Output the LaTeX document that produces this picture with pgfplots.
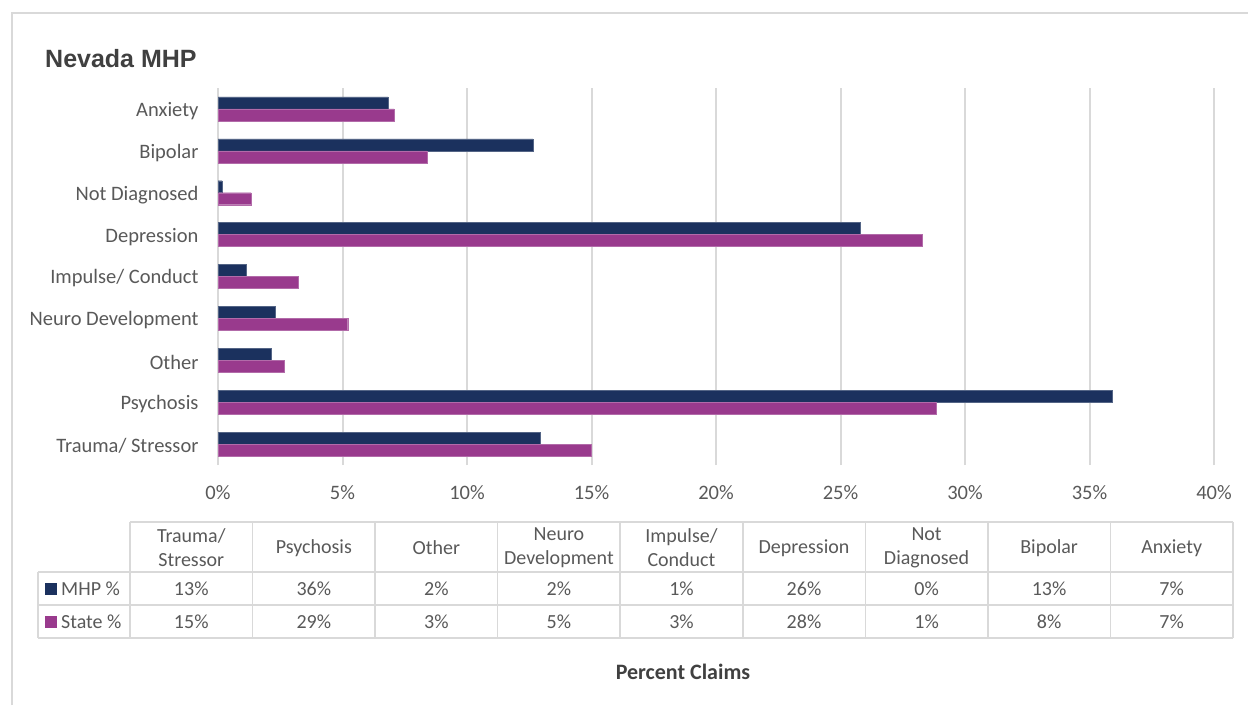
\documentclass[border=0pt]{standalone}
\usepackage{pgfplots}
\usepackage{pgfplotstable}
\pgfplotsset{compat=1.18}
\usepackage{fontspec}
\setmainfont{Carlito}
\newfontfamily\titlefont{Liberation Sans}
\definecolor{mhp}{HTML}{1B315E}
\definecolor{state}{HTML}{993A8D}
\definecolor{txt}{HTML}{595959}
\definecolor{ttl}{HTML}{404040}
\definecolor{gridc}{HTML}{D9D9D9}

\pgfplotstableread{
idx mhp state
0 12.93 14.98
1 35.93 28.84
2 2.14 2.66
3 2.30 5.21
4 1.15 3.24
5 25.80 28.27
6 0.17 1.33
7 12.65 8.39
8 6.83 7.07
}\datatab

\begin{document}
\begin{tikzpicture}[x=1pt,y=1pt]
\path[use as bounding box] (0,0) rectangle (1248,705);
\draw[gridc, line width=1.5pt] (12,0) -- (12,692) -- (1248,692);
\node[anchor=base west, font=\titlefont\bfseries\fontsize{25}{29}\selectfont, text=ttl, inner sep=0pt] at (45,637) {Nevada MHP};
\begin{axis}[
  at={(218pt,240pt)}, anchor=south west, scale only axis,
  width=996pt, height=377pt,
  xmin=0, xmax=40, ymin=-0.5, ymax=8.5,
  axis line style={draw=none}, major tick length=0pt,
  xmajorgrids, grid style={gridc, line width=2pt},
  xtick={0,5,...,40},
  /pgf/number format/assume math mode=true,
  xticklabel={\pgfmathprintnumber{\tick}\%},
  xticklabel style={anchor=north, yshift=-17pt},
  ytick={0,...,8},
  yticklabels={Trauma/ Stressor\hspace{4pt}, Psychosis, Other, Neuro Development, Impulse/ Conduct, Depression, Not Diagnosed\hspace{4pt}, Bipolar, Anxiety},
  yticklabel style={anchor=east, xshift=-16pt, yshift=-2pt},
  tick label style={font=\fontsize{20.5}{24}\selectfont, text=txt},
  clip=false,
]
\addplot[xbar, bar width=12pt, bar shift=6pt, fill=mhp, draw=mhp!75!white, line width=0.4pt] table[x=mhp, y=idx] {\datatab};
\addplot[xbar, bar width=12pt, bar shift=-6pt, fill=state, draw=state!75!white, line width=0.4pt] table[x=state, y=idx] {\datatab};
\end{axis}
% data table
\begin{scope}[gridc, line width=1.5pt]
\draw (130,183) -- (1233,183);
\foreach \yy in {133,100,67} \draw (38,\yy) -- (1233,\yy);
\draw (38,133) -- (38,67);
\foreach \i in {0,...,9} \draw ({130+122.55*\i},183) -- ({130+122.55*\i},67);
\end{scope}
\foreach \h [count=\i from 0] in {{Trauma/\\Stressor},{Psychosis},{Other},{Neuro\\Development},{Impulse/\\Conduct},{Depression},{Not\\Diagnosed},{Bipolar},{Anxiety}}
  \node[align=center, font=\fontsize{20}{24}\selectfont, text=txt, inner sep=0pt] at ({130+122.55*(\i+0.5)},157) {\h};
\foreach \v [count=\i from 0] in {13,36,2,2,1,26,0,13,7}
  \node[font=\fontsize{20}{24}\selectfont, text=txt, inner sep=0pt] at ({130+122.55*(\i+0.5)},116.5) {\v\%};
\foreach \v [count=\i from 0] in {15,29,3,5,3,28,1,8,7}
  \node[font=\fontsize{20}{24}\selectfont, text=txt, inner sep=0pt] at ({130+122.55*(\i+0.5)},83.5) {\v\%};
\fill[mhp] (45,110.5) rectangle (57,122.5);
\fill[state] (45,77.5) rectangle (57,89.5);
\node[anchor=west, font=\fontsize{20}{24}\selectfont, text=txt, inner sep=0pt] at (61,116.5) {MHP \%};
\node[anchor=west, font=\fontsize{20}{24}\selectfont, text=txt, inner sep=0pt] at (61,83.5) {State \%};
\node[font=\bfseries\fontsize{22}{26}\selectfont, text=ttl, inner sep=0pt] at (683,33) {Percent Claims};
\end{tikzpicture}
\end{document}
